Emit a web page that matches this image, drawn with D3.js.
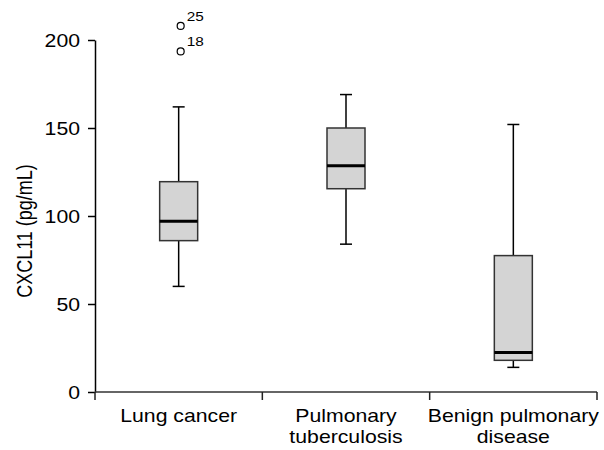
<!DOCTYPE html>
<html>
<head>
<meta charset="utf-8">
<script src="https://cdn.jsdelivr.net/npm/d3@7"></script>
<style>
  body { margin: 0; background: #fff; }
  text { font-family: "Liberation Sans", Arial, sans-serif; fill: #000; }
</style>
</head>
<body>
<div id="chart"></div>
<script>
// box plot summary
const categories = ["Lung cancer", "Pulmonary tuberculosis", "Benign pulmonary disease"];
const labelLines = [["Lung cancer"], ["Pulmonary", "tuberculosis"], ["Benign pulmonary", "disease"]];
const whiskerLow = [60, 84, 14];
const q1 = [86, 115.5, 18];
const median = [97, 128.5, 22.5];
const q3 = [119.5, 150, 77.5];
const whiskerHigh = [162, 169, 152];
const outliers = [
    { group: "Lung cancer", value: 208, id: "25" },
    { group: "Lung cancer", value: 193.5, id: "18" }
];
const yTicks = [0, 50, 100, 150, 200];

const width = 604, height = 450;
const stretch = 1.18; // text in the figure is a little wide

const svg = d3.select("#chart").append("svg")
    .attr("width", width)
    .attr("height", height);

const x = d3.scaleBand()
    .domain(categories)
    .range([95, 597])
    .padding(0);

const y = d3.scaleLinear()
    .domain([0, 200])
    .range([392, 40]);

const boxes = categories.map((c, i) => ({
    name: c, lines: labelLines[i],
    lo: whiskerLow[i], q1: q1[i], med: median[i], q3: q3[i], hi: whiskerHigh[i]
}));

/* Y AXIS */
const yAxis = svg.append("g")
    .attr("transform", "translate(95,0)")
    .call(d3.axisLeft(y).tickValues(yTicks).tickSize(7).tickSizeOuter(0).tickFormat(d3.format("d")));
yAxis.select(".domain").attr("stroke", "#000").attr("stroke-width", 1.5);
yAxis.selectAll(".tick line").attr("stroke", "#000").attr("stroke-width", 1.5);
yAxis.selectAll(".tick text")
    .attr("x", null).attr("dy", null)
    .attr("font-size", 18)
    .attr("text-anchor", "end")
    .attr("dominant-baseline", "central")
    .attr("transform", `translate(-15,0) scale(${stretch},1)`);

svg.append("text")
    .attr("transform", `translate(32,231) scale(${stretch},1) rotate(-90)`)
    .attr("text-anchor", "middle")
    .attr("font-size", 18)
    .text("CXCL11 (pg/mL)");

/* X AXIS */
svg.append("line")
    .attr("x1", x.range()[0]).attr("x2", x.range()[1])
    .attr("y1", y(0)).attr("y2", y(0))
    .attr("stroke", "#333").attr("stroke-width", 1.5);

const bounds = [x.range()[0]].concat(categories.map(c => x(c) + x.bandwidth()));
svg.append("g").selectAll("line")
    .data(bounds)
    .enter()
    .append("line")
        .attr("x1", d => d).attr("x2", d => d)
        .attr("y1", y(0)).attr("y2", y(0) + 8)
        .attr("stroke", "#222").attr("stroke-width", 1.5);

const labels = svg.append("g").selectAll("g")
    .data(boxes)
    .enter()
    .append("g")
        .attr("transform", d => `translate(${x(d.name) + x.bandwidth() / 2},422) scale(${stretch},1)`);
labels.selectAll("text")
    .data(d => d.lines)
    .enter()
    .append("text")
        .attr("y", (d, i) => i * 21)
        .attr("text-anchor", "middle")
        .attr("font-size", 18)
        .text(d => d);

/* BOXES */
const boxW = 38, capW = 12;
const g = svg.append("g").selectAll("g")
    .data(boxes)
    .enter()
    .append("g")
        .attr("transform", d => `translate(${x(d.name) + x.bandwidth() / 2},0)`);

g.append("line")
    .attr("y1", d => y(d.hi)).attr("y2", d => y(d.q3))
    .attr("stroke", "#000").attr("stroke-width", 1.5);
g.append("line")
    .attr("y1", d => y(d.q1)).attr("y2", d => y(d.lo))
    .attr("stroke", "#000").attr("stroke-width", 1.5);
g.append("line")
    .attr("x1", -capW / 2).attr("x2", capW / 2)
    .attr("y1", d => y(d.hi)).attr("y2", d => y(d.hi))
    .attr("stroke", "#000").attr("stroke-width", 1.5);
g.append("line")
    .attr("x1", -capW / 2).attr("x2", capW / 2)
    .attr("y1", d => y(d.lo)).attr("y2", d => y(d.lo))
    .attr("stroke", "#000").attr("stroke-width", 1.5);
g.append("rect")
    .attr("x", -boxW / 2).attr("width", boxW)
    .attr("y", d => y(d.q3))
    .attr("height", d => y(d.q1) - y(d.q3))
    .attr("fill", "#d4d4d4")
    .attr("stroke", "#333").attr("stroke-width", 1.5);
g.append("line")
    .attr("x1", -boxW / 2).attr("x2", boxW / 2)
    .attr("y1", d => y(d.med)).attr("y2", d => y(d.med))
    .attr("stroke", "#000").attr("stroke-width", 3);

/* OUTLIERS */
const out = svg.append("g").selectAll("g")
    .data(outliers)
    .enter()
    .append("g")
        .attr("transform", d => `translate(${x(d.group) + x.bandwidth() / 2 + 2},${y(d.value)})`);
out.append("circle")
    .attr("r", 3.5)
    .attr("fill", "#fff")
    .attr("stroke", "#000").attr("stroke-width", 1.2);
out.append("text")
    .attr("transform", `translate(6,-5) scale(${stretch},1)`)
    .attr("font-size", 13)
    .text(d => d.id);
</script>
</body>
</html>
